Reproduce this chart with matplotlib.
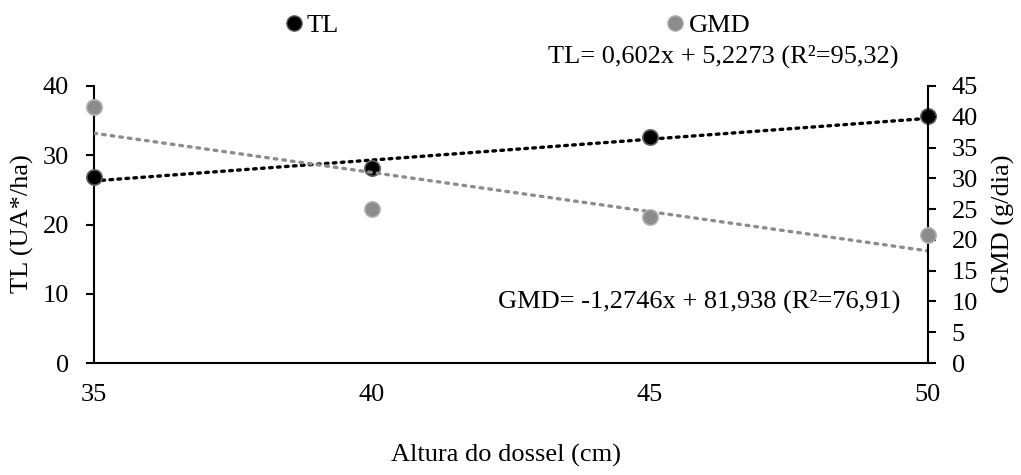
import numpy as np
import matplotlib
matplotlib.use("Agg")
import matplotlib.pyplot as plt
from matplotlib.lines import Line2D

plt.rcParams['font.family'] = ['Liberation Serif', 'DejaVu Serif']

# data
altura = [35, 40, 45, 50]
tl = [26.9, 28.2, 32.7, 35.7]
gmd = [41.6, 25.0, 23.7, 20.8]

# trend line coefficients shown in the chart
tl_coef = (0.602, 5.2273)
gmd_coef = (-1.2746, 81.938)
tl_eq = "TL= 0,602x + 5,2273 (R²=95,32)"
gmd_eq = "GMD= -1,2746x + 81,938 (R²=76,91)"

fs = 19
W, H = 1021, 475
fig = plt.figure(figsize=(W/100, H/100), dpi=100)
ax = fig.add_axes([94/W, 1-363/H, (928-94)/W, (363-86)/H])
ax2 = ax.twinx()

xx = np.array([altura[0], altura[-1]])
ax.plot(xx, tl_coef[0]*xx + tl_coef[1], color='black', lw=2.4,
        linestyle=(0, (0.8, 1.6)), dash_capstyle='round', zorder=2)
ax2.plot(xx, gmd_coef[0]*xx + gmd_coef[1], color='#8c8c8c', lw=2.4,
         linestyle=(0, (0.8, 1.8)), dash_capstyle='round', zorder=2)

ax.plot(altura, tl, 'o', color='black', mec='#5e5e5e', mew=1.2, ms=11,
        zorder=4, clip_on=False)
ax2.plot(altura, gmd, 'o', color='#8c8c8c', mec='#b0b0b0', mew=1.2, ms=11,
         zorder=3, clip_on=False)

ax.set_xlim(35, 50)
ax.set_ylim(0, 40)
ax2.set_ylim(0, 45)
ax.set_xticks(altura)
ax.set_yticks([0, 10, 20, 30, 40])
ax2.set_yticks(np.arange(0, 46, 5))

for a in (ax, ax2):
    a.spines['top'].set_visible(False)
    for s in a.spines.values():
        s.set_linewidth(1.5)
ax.spines['right'].set_visible(False)
ax2.spines['left'].set_visible(False)
ax2.spines['bottom'].set_visible(False)

ax.tick_params(axis='x', length=0, pad=15, labelsize=fs)
ax.tick_params(axis='y', length=6, width=1.5, pad=12, labelsize=fs)
ax2.tick_params(axis='y', length=6, width=1.5, pad=11, labelsize=fs)

fig.text(22/W, 1-224/H, "TL (UA*/ha)", fontsize=fs, rotation=90,
         ha='center', va='center')
fig.text(1003/W, 1-224/H, "GMD (g/dia)", fontsize=fs, rotation=90,
         ha='center', va='center')
fig.text(506/W, 1-455/H, "Altura do dossel (cm)", fontsize=fs,
         ha='center', va='center')

fig.text(723/W, 1-56/H, tl_eq, fontsize=fs, ha='center', va='center')
fig.text(900/W, 1-301/H, gmd_eq, fontsize=fs, ha='right', va='center')

handles = [Line2D([], [], marker='o', ls='', color='black', mec='#5e5e5e', ms=11),
           Line2D([], [], marker='o', ls='', color='#8c8c8c', mec='#b0b0b0', ms=11)]
fig.legend(handles, ['TL', 'GMD'], loc='center', ncol=2, frameon=False,
           bbox_to_anchor=(518/W, 1-25/H), fontsize=fs,
           handlelength=0.6, handletextpad=0.2, columnspacing=12.45)

fig.savefig("out.png", dpi=100)
